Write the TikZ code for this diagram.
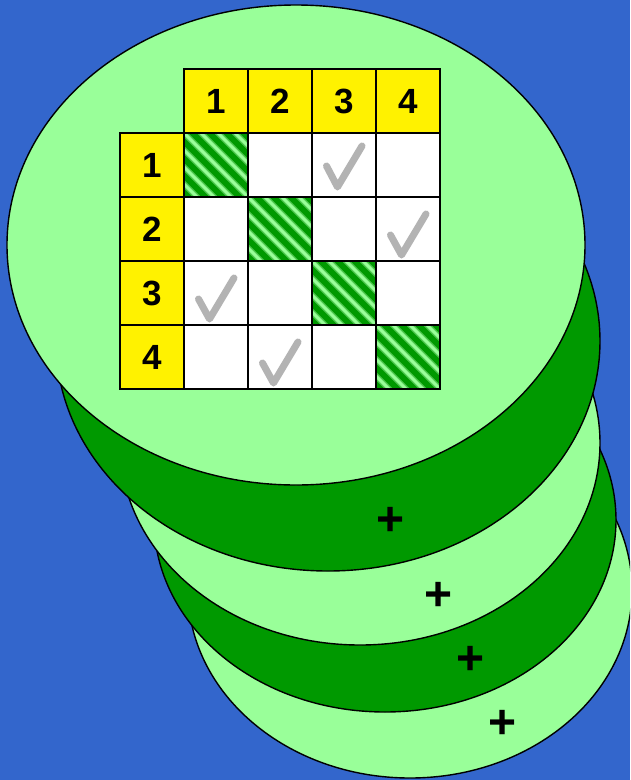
\documentclass[tikz,border=0pt]{standalone}
\usepackage{fontspec}
\setmainfont{Liberation Sans}
\definecolor{bg}{RGB}{51,102,204}
\definecolor{lg}{RGB}{153,255,153}
\definecolor{dg}{RGB}{0,153,0}
\definecolor{mg}{RGB}{80,200,80}
\definecolor{chk}{RGB}{179,179,179}
\begin{document}
\begin{tikzpicture}[x=1pt,y=-1pt,
  disk/.style={draw=black,line width=1.4pt},
  cell/.style={draw=black,line width=1.8pt,minimum size=64pt,inner sep=0pt,
    font=\fontsize{35}{40}\selectfont\bfseries},
  headcell/.style={cell,fill=yellow},
  bodycell/.style={cell,fill=white},
  hatchcell/.style={cell,path picture={
    \fill[dg] (path picture bounding box.south west) rectangle (path picture bounding box.north east);
    \foreach \k in {-6,...,6}{
      \draw[mg,line width=6pt,shift={(path picture bounding box.center)}] (\k*17-45,-45) -- ++(90,90);
      \draw[lg,line width=3pt,shift={(path picture bounding box.center)}] (\k*17-45,-45) -- ++(90,90);
    }}},
  chkline/.style={draw=chk,line width=7pt,line cap=round,line join=round},
  plus/.style={inner sep=0pt,font=\fontsize{48}{52}\selectfont\bfseries}
]
\useasboundingbox (0,0) rectangle (630,780);
\fill[bg] (0,0) rectangle (630,780);
\clip (0,0) rectangle (630,780);
% stacked disks, bottom first
\draw[disk,fill=lg] (410,590) ellipse [x radius=222, y radius=188];
\draw[disk,fill=dg] (385,520) ellipse [x radius=231, y radius=192];
\draw[disk,fill=lg] (360,443) ellipse [x radius=240, y radius=202];
\draw[disk,fill=dg] (328,341) ellipse [x radius=272, y radius=230];
\draw[disk,fill=lg] (296,245) ellipse [x radius=289, y radius=240];
% plus signs
\node[plus] (p1) at (391,521) {+};
\node[plus] (p2) at (439,596) {+};
\node[plus] (p3) at (471,660) {+};
\node[plus] (p4) at (503,724) {+};
% header row
\node[headcell] (h1) at (216,101) {1};
\node[headcell] (h2) at (280,101) {2};
\node[headcell] (h3) at (344,101) {3};
\node[headcell] (h4) at (408,101) {4};
% row headers
\node[headcell] (r1) at (152,165) {1};
\node[headcell] (r2) at (152,229) {2};
\node[headcell] (r3) at (152,293) {3};
\node[headcell] (r4) at (152,357) {4};
% body
\node[hatchcell] (c11) at (216,165) {};
\node[bodycell]  (c12) at (280,165) {};
\node[bodycell]  (c13) at (344,165) {};
\node[bodycell]  (c14) at (408,165) {};
\node[bodycell]  (c21) at (216,229) {};
\node[hatchcell] (c22) at (280,229) {};
\node[bodycell]  (c23) at (344,229) {};
\node[bodycell]  (c24) at (408,229) {};
\node[bodycell]  (c31) at (216,293) {};
\node[bodycell]  (c32) at (280,293) {};
\node[hatchcell] (c33) at (344,293) {};
\node[bodycell]  (c34) at (408,293) {};
\node[bodycell]  (c41) at (216,357) {};
\node[bodycell]  (c42) at (280,357) {};
\node[bodycell]  (c43) at (344,357) {};
\node[hatchcell] (c44) at (408,357) {};
% check marks
\draw[chkline] ([shift={(-17.5,1)}]c13.center) -- ([shift={(-6.5,22)}]c13.center) -- ([shift={(18,-19)}]c13.center);
\draw[chkline] ([shift={(-17.5,6)}]c24.center) -- ([shift={(-6.5,26)}]c24.center) -- ([shift={(18,-15)}]c24.center);
\draw[chkline] ([shift={(-17.5,6)}]c31.center) -- ([shift={(-6.5,26)}]c31.center) -- ([shift={(18,-15)}]c31.center);
\draw[chkline] ([shift={(-17.5,6)}]c42.center) -- ([shift={(-6.5,26)}]c42.center) -- ([shift={(18,-15)}]c42.center);
\end{tikzpicture}
\end{document}
